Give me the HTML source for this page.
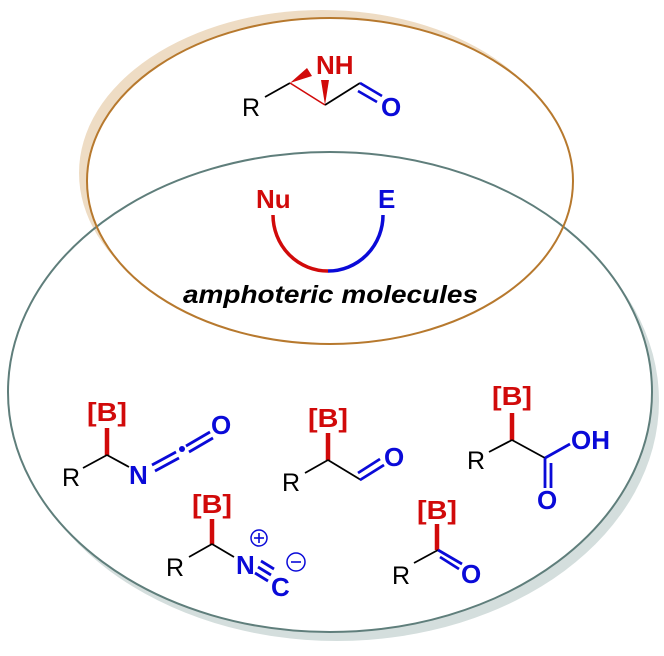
<!DOCTYPE html>
<html><head><meta charset="utf-8"><style>
html,body{margin:0;padding:0;background:#fff;}
svg{display:block;}
text{font-family:"Liberation Sans",Arial,sans-serif;}
</style></head><body>
<svg width="664" height="656" viewBox="0 0 664 656" xmlns="http://www.w3.org/2000/svg">
<!-- gray ellipse shadow + fill -->
<ellipse cx="337" cy="401" rx="322" ry="240" fill="#d4dedd"/>
<ellipse cx="330" cy="392" rx="322" ry="240" fill="#fff"/>
<!-- orange ellipse shadow + fill -->
<ellipse cx="322" cy="173" rx="243" ry="163" fill="#eedcc4"/>
<ellipse cx="330" cy="181" rx="243" ry="163" fill="#fff"/>
<!-- strokes -->
<ellipse cx="330" cy="392" rx="322" ry="240" fill="none" stroke="#5f7e7b" stroke-width="2"/>
<ellipse cx="330" cy="181" rx="243" ry="163" fill="none" stroke="#b7792e" stroke-width="2"/>

<g stroke-linecap="butt">
<!-- aziridine -->
<text x="242" y="116" font-size="25" fill="#000">R</text>
<line x1="265" y1="97" x2="290" y2="83" stroke="#000" stroke-width="1.8"/>
<polygon points="290,83 307,68 312,76" fill="#d10a0a"/>
<line x1="290" y1="83" x2="325" y2="105" stroke="#d10a0a" stroke-width="1.6"/>
<polygon points="321,80 329,80 325,105" fill="#d10a0a"/>
<text x="316" y="74" font-size="26" font-weight="bold" fill="#d10a0a">NH</text>
<line x1="325" y1="105" x2="360" y2="83" stroke="#000" stroke-width="1.8"/>
<line x1="360" y1="83" x2="382" y2="96" stroke="#0a0ad8" stroke-width="2.6"/>
<line x1="358" y1="91" x2="377" y2="102" stroke="#0a0ad8" stroke-width="2.6"/>
<text x="381" y="116" font-size="26" font-weight="bold" fill="#0a0ad8">O</text>

<!-- Nu / E -->
<text x="256" y="208" font-size="26" font-weight="bold" fill="#d10a0a">Nu</text>
<text x="378" y="208" font-size="26" font-weight="bold" fill="#0a0ad8">E</text>
<path d="M273,215 A55,56 0 0 0 328,271" fill="none" stroke="#d10a0a" stroke-width="3.5"/>
<path d="M328,271 A55,56 0 0 0 383,215" fill="none" stroke="#0a0ad8" stroke-width="3.5"/>
<text x="183" y="303" font-size="25" font-weight="bold" font-style="italic" fill="#000" textLength="295" lengthAdjust="spacingAndGlyphs">amphoteric molecules</text>

<!-- compound 1: isocyanate -->
<text x="107" y="421" font-size="26" font-weight="bold" fill="#d10a0a" text-anchor="middle" textLength="40" lengthAdjust="spacingAndGlyphs">[B]</text>
<line x1="107" y1="428" x2="107" y2="455" stroke="#d10a0a" stroke-width="4.5"/>
<text x="62" y="486" font-size="25" fill="#000">R</text>
<line x1="107" y1="455" x2="83" y2="468" stroke="#000" stroke-width="1.8"/>
<line x1="107" y1="455" x2="129" y2="467" stroke="#000" stroke-width="1.8"/>
<text x="129" y="484" font-size="26" font-weight="bold" fill="#0a0ad8">N</text>
<line x1="152" y1="465" x2="176" y2="452" stroke="#0a0ad8" stroke-width="2.8"/>
<line x1="155" y1="471" x2="179" y2="458" stroke="#0a0ad8" stroke-width="2.8"/>
<circle cx="182" cy="449" r="3" fill="#0a0ad8"/>
<line x1="186" y1="446" x2="210" y2="432" stroke="#0a0ad8" stroke-width="2.8"/>
<line x1="189" y1="452" x2="213" y2="438" stroke="#0a0ad8" stroke-width="2.8"/>
<text x="211" y="434" font-size="26" font-weight="bold" fill="#0a0ad8">O</text>

<!-- compound 2: aldehyde -->
<text x="328" y="427" font-size="26" font-weight="bold" fill="#d10a0a" text-anchor="middle" textLength="40" lengthAdjust="spacingAndGlyphs">[B]</text>
<line x1="328" y1="433" x2="328" y2="460" stroke="#d10a0a" stroke-width="4.5"/>
<text x="282" y="491" font-size="25" fill="#000">R</text>
<line x1="328" y1="460" x2="305" y2="473" stroke="#000" stroke-width="1.8"/>
<line x1="328" y1="460" x2="361" y2="480" stroke="#000" stroke-width="1.8"/>
<line x1="360" y1="480" x2="384" y2="465" stroke="#0a0ad8" stroke-width="2.8"/>
<line x1="358" y1="473" x2="380" y2="459" stroke="#0a0ad8" stroke-width="2.8"/>
<text x="384" y="466" font-size="26" font-weight="bold" fill="#0a0ad8">O</text>

<!-- compound 3: acid -->
<text x="512" y="405" font-size="26" font-weight="bold" fill="#d10a0a" text-anchor="middle" textLength="40" lengthAdjust="spacingAndGlyphs">[B]</text>
<line x1="512" y1="413" x2="512" y2="440" stroke="#d10a0a" stroke-width="4.5"/>
<text x="467" y="469" font-size="25" fill="#000">R</text>
<line x1="512" y1="440" x2="489" y2="452" stroke="#000" stroke-width="1.8"/>
<line x1="512" y1="440" x2="545" y2="458" stroke="#000" stroke-width="1.8"/>
<line x1="545" y1="458" x2="570" y2="444" stroke="#0a0ad8" stroke-width="2.8"/>
<text x="571" y="449" font-size="26" font-weight="bold" fill="#0a0ad8">OH</text>
<line x1="545" y1="458" x2="545" y2="488" stroke="#0a0ad8" stroke-width="2.8"/>
<line x1="551" y1="463" x2="551" y2="488" stroke="#0a0ad8" stroke-width="2.8"/>
<text x="537" y="509" font-size="26" font-weight="bold" fill="#0a0ad8">O</text>

<!-- compound 4: isocyanide -->
<text x="212" y="513" font-size="26" font-weight="bold" fill="#d10a0a" text-anchor="middle" textLength="40" lengthAdjust="spacingAndGlyphs">[B]</text>
<line x1="212" y1="519" x2="212" y2="544" stroke="#d10a0a" stroke-width="4.5"/>
<text x="166" y="576" font-size="25" fill="#000">R</text>
<line x1="212" y1="544" x2="189" y2="557" stroke="#000" stroke-width="1.8"/>
<line x1="212" y1="544" x2="234" y2="557" stroke="#000" stroke-width="1.8"/>
<text x="236" y="574" font-size="26" font-weight="bold" fill="#0a0ad8">N</text>
<circle cx="259" cy="538" r="8" fill="none" stroke="#0a0ad8" stroke-width="1.5"/>
<line x1="254" y1="538" x2="264" y2="538" stroke="#0a0ad8" stroke-width="1.6"/>
<line x1="259" y1="533" x2="259" y2="543" stroke="#0a0ad8" stroke-width="1.6"/>
<line x1="258" y1="567" x2="271" y2="575" stroke="#0a0ad8" stroke-width="2.8"/>
<line x1="255" y1="573" x2="268" y2="581" stroke="#0a0ad8" stroke-width="2.8"/>
<line x1="261" y1="561" x2="274" y2="569" stroke="#0a0ad8" stroke-width="2.8"/>
<text x="271" y="596" font-size="26" font-weight="bold" fill="#0a0ad8">C</text>
<circle cx="296" cy="562" r="9" fill="none" stroke="#0a0ad8" stroke-width="1.5"/>
<line x1="291" y1="562" x2="301" y2="562" stroke="#0a0ad8" stroke-width="1.6"/>

<!-- compound 5: acyl boron -->
<text x="437" y="519" font-size="26" font-weight="bold" fill="#d10a0a" text-anchor="middle" textLength="40" lengthAdjust="spacingAndGlyphs">[B]</text>
<line x1="437" y1="524" x2="437" y2="550" stroke="#d10a0a" stroke-width="4.5"/>
<text x="392" y="584" font-size="25" fill="#000">R</text>
<line x1="438" y1="550" x2="414" y2="563" stroke="#000" stroke-width="1.8"/>
<line x1="438" y1="550" x2="462" y2="564" stroke="#0a0ad8" stroke-width="2.8"/>
<line x1="440" y1="557" x2="459" y2="569" stroke="#0a0ad8" stroke-width="2.8"/>
<text x="461" y="583" font-size="26" font-weight="bold" fill="#0a0ad8">O</text>
</g>
</svg>
</body></html>
